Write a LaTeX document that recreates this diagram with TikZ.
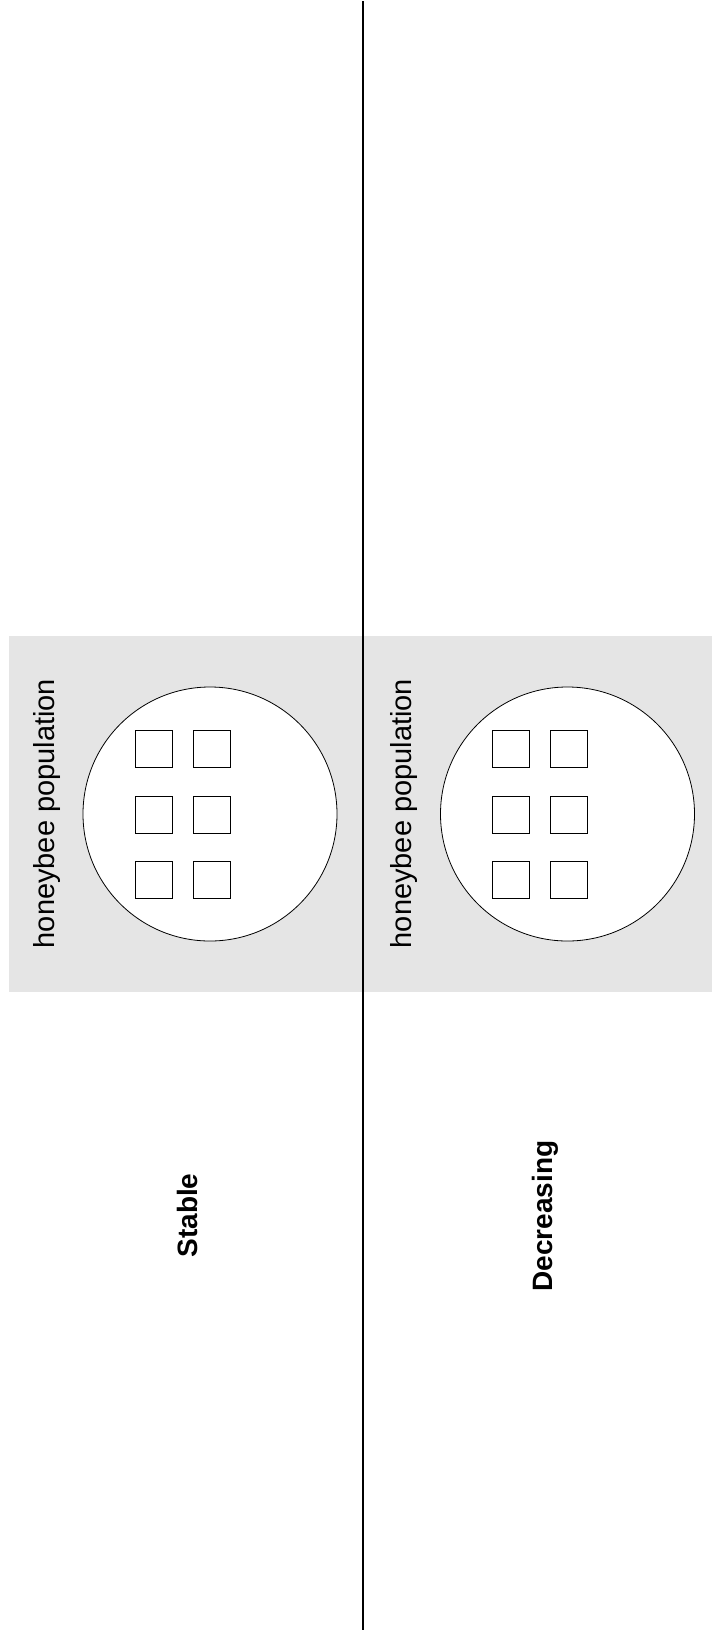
\documentclass[tikz,border=0pt]{standalone}
\usepackage{fontspec}
\setmainfont{Liberation Sans}
\usepackage{tikz}
\newcommand{\cellsize}{37pt}
\newcommand{\popradius}{127pt}
\definecolor{panelGray}{RGB}{229,229,229}
\usetikzlibrary{calc,positioning}
\tikzset{
  x=1pt,y=-1pt,
  panel/.style={fill=panelGray,draw=none},
  pop/.style={draw,fill=white,shape=circle,minimum size=2*\popradius,inner sep=0,line width=0.8pt},
  cell/.style={draw,fill=white,shape=rectangle,minimum size=\cellsize,inner sep=0,line width=0.8pt},
  poplabel/.style={rotate=90,inner sep=0,font=\fontsize{29}{32}\selectfont},
  trend/.style={rotate=90,inner sep=0,font=\fontsize{28}{32}\selectfont\bfseries},
  divider/.style={draw,line width=2.5pt},
}
\begin{document}
\begin{tikzpicture}
  \useasboundingbox (0,0) rectangle (712,1633);
  % grey panels
  \fill[panel] (9,636) rectangle (363,992);
  \fill[panel] (363,636) rectangle (712,992);
  % populations
  \node (stablepop) [pop] at (210,814) {};
  \node (decpop) [pop] at (567.5,814) {};
  \node (s1) [cell] at ($(stablepop)+(-56,-65.5)$) {};
  \node (s2) [cell] at ($(stablepop)+(2,-65.5)$) {};
  \node (s3) [cell] at ($(stablepop)+(-56,0.5)$) {};
  \node (s4) [cell] at ($(stablepop)+(2,0.5)$) {};
  \node (s5) [cell] at ($(stablepop)+(-56,65.5)$) {};
  \node (s6) [cell] at ($(stablepop)+(2,65.5)$) {};
  \node (d1) [cell] at ($(decpop)+(-56.5,-65.5)$) {};
  \node (d2) [cell] at ($(decpop)+(1.5,-65.5)$) {};
  \node (d3) [cell] at ($(decpop)+(-56.5,0.5)$) {};
  \node (d4) [cell] at ($(decpop)+(1.5,0.5)$) {};
  \node (d5) [cell] at ($(decpop)+(-56.5,65.5)$) {};
  \node (d6) [cell] at ($(decpop)+(1.5,65.5)$) {};
  \node (stablelbl) [poplabel] at (47,813.5) {honeybee population};
  \node (declbl) [poplabel] at (404,813.5) {honeybee population};
  % trends
  \node (stable) [trend] at (187.5,1215.5) {Stable};
  \node (decreasing) [trend] at (545.5,1216) {Decreasing};
  % divider
  \coordinate (top) at (363,1);
  \coordinate (bottom) at (363,1630);
  \path [divider] (top) -- (bottom);
\end{tikzpicture}
\end{document}
